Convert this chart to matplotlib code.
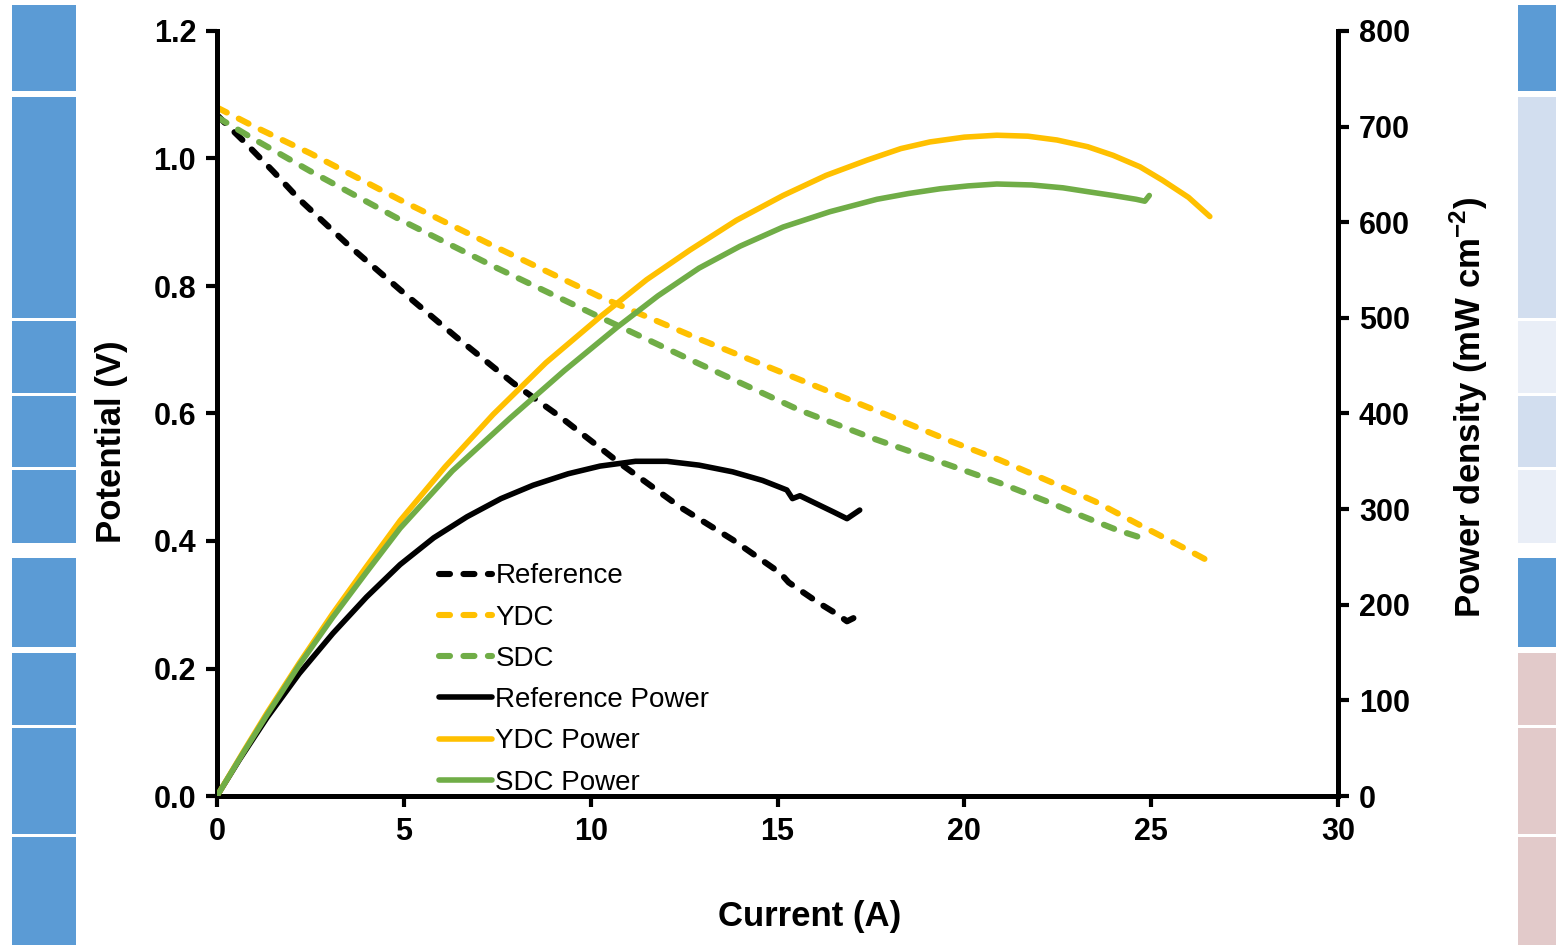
import matplotlib
matplotlib.use("Agg")
import matplotlib.pyplot as plt
from matplotlib.patches import Rectangle

plt.rcParams['font.family'] = ['Liberation Sans', 'DejaVu Sans']

# Potential curves (V vs current A)
ref_i = [0, 0.7, 1.5, 2.22, 3.5, 4.9, 6.4, 7.92, 9.18, 10.78, 12.4, 13.8, 15.07, 15.3, 15.6, 16.1, 16.6, 16.86, 17.1]
ref_v = [1.068, 1.028, 0.98, 0.935, 0.865, 0.794, 0.72, 0.648, 0.595, 0.522, 0.453, 0.402, 0.350, 0.335, 0.323, 0.303, 0.285, 0.274, 0.281]

ydc_i = [0, 1.0, 2.5, 4.9, 7.5, 10.25, 12.9, 15.6, 18.0, 19.7, 20.95, 22.3, 23.5, 24.6, 25.85, 26.65]
ydc_v = [1.08, 1.05, 1.008, 0.935, 0.86, 0.783, 0.717, 0.653, 0.596, 0.555, 0.527, 0.493, 0.462, 0.428, 0.39, 0.365]

sdc_i = [0, 1.0, 2.5, 4.9, 7.5, 10.25, 12.9, 15.6, 17.6, 19.6, 20.95, 22.3, 23.2, 24.1, 24.9]
sdc_v = [1.065, 1.03, 0.98, 0.904, 0.828, 0.751, 0.678, 0.605, 0.56, 0.519, 0.491, 0.46, 0.438, 0.417, 0.402]

# Power density curves (mW cm-2)
refp_i = [0, 0.6, 1.34, 2.2, 3.1, 4.0, 4.9, 5.8, 6.69, 7.6, 8.46, 9.4, 10.25, 11.2, 12.04, 12.9, 13.8, 14.6,
          15.25, 15.4, 15.6, 16.5, 16.86, 17.2]
refp_p = [0, 38, 82, 128, 170, 208, 242, 270, 292, 311, 325, 337, 345, 350, 350, 346, 339, 330,
          320, 311, 314, 297, 290, 299]

ydcp_i = [0, 0.7, 1.34, 2.2, 3.1, 4.0, 4.9, 6.1, 7.39, 8.8, 10.25, 11.5, 12.66, 13.9, 15.15, 16.3, 17.4, 18.3, 19.08,
          20.0, 20.87, 21.7, 22.48, 23.3, 23.98, 24.7, 25.3, 26.0, 26.57]
ydcp_p = [0, 46, 87, 139, 191, 240, 288, 344, 399, 453, 501, 540, 571, 602, 628, 649, 665, 677, 684,
          689, 691, 690, 686, 679, 670, 658, 644, 626, 606]

sdcp_i = [0, 0.7, 1.34, 2.2, 3.1, 4.0, 4.9, 6.3, 7.84, 9.3, 10.7, 11.8, 12.9, 14.0, 15.15, 16.4, 17.66, 18.5, 19.35,
          20.1, 20.87, 21.8, 22.64, 23.3, 23.98, 24.6, 24.83, 24.95]
sdcp_p = [0, 45, 85, 137, 187, 234, 280, 340, 395, 445, 490, 523, 552, 575, 595, 611, 624, 630, 635,
          638, 640, 639, 636, 632, 628, 624, 622, 628]

labels = ["Reference", "YDC", "SDC", "Reference Power", "YDC Power", "SDC Power"]
colors = ["#000000", "#FFC000", "#70AD47"]

# side decoration blocks (figure pixels: y_top, y_bottom)
block_y = [(5, 91), (97, 318), (321, 393), (396, 467), (470, 543), (558, 647), (653, 725), (728, 834), (837, 945)]
left_cols = ["#5B9BD5"] * 9
right_cols = ["#5B9BD5", "#D2DEEF", "#E9EEF7", "#D2DEEF", "#E9EEF7", "#5B9BD5", "#E2CACA", "#E2CACA", "#E2CACA"]

W, H = 1560, 947
fig = plt.figure(figsize=(W / 100, H / 100), dpi=100)
ax = fig.add_axes([217 / W, 1 - 796 / H, (1338 - 217) / W, (796 - 31) / H])
ax2 = ax.twinx()

for (y0, y1), c in zip(block_y, left_cols):
    fig.add_artist(Rectangle((12 / W, 1 - y1 / H), 64 / W, (y1 - y0) / H,
                             transform=fig.transFigure, color=c, lw=0))
for (y0, y1), c in zip(block_y, right_cols):
    fig.add_artist(Rectangle((1518 / W, 1 - y1 / H), 38 / W, (y1 - y0) / H,
                             transform=fig.transFigure, color=c, lw=0))

dash_kw = dict(lw=4.4, ls=(0, (1.8, 2.2)), dash_capstyle="round")
solid_kw = dict(lw=4.0, solid_capstyle="round", solid_joinstyle="round")
h = []
h += ax.plot(ref_i, ref_v, color=colors[0], label=labels[0], **dash_kw)
h += ax.plot(ydc_i, ydc_v, color=colors[1], label=labels[1], **dash_kw)
h += ax.plot(sdc_i, sdc_v, color=colors[2], label=labels[2], **dash_kw)
h += ax2.plot(refp_i, refp_p, color=colors[0], label=labels[3], **solid_kw)
h += ax2.plot(ydcp_i, ydcp_p, color=colors[1], label=labels[4], **solid_kw)
h += ax2.plot(sdcp_i, sdcp_p, color=colors[2], label=labels[5], **solid_kw)

ax.set_xlim(0, 30)
ax.set_ylim(0, 1.2)
ax2.set_ylim(0, 800)
ax.set_xticks(range(0, 31, 5))
ax.set_yticks([0, 0.2, 0.4, 0.6, 0.8, 1.0, 1.2])
ax.set_yticklabels(["%.1f" % v for v in ax.get_yticks()])
ax2.set_yticks(range(0, 801, 100))

for a in (ax, ax2):
    a.spines["top"].set_visible(False)
    for s in ("left", "right", "bottom"):
        a.spines[s].set_linewidth(3.6)
    a.tick_params(direction="out", length=8, width=3, labelsize=22, pad=7)
    for t in a.get_xticklabels() + a.get_yticklabels():
        t.set_fontweight("bold")
ax.spines["right"].set_visible(False)
ax2.spines["left"].set_visible(False)
ax2.spines["bottom"].set_visible(False)

ax.set_xlabel("Current (A)", fontsize=25, fontweight="bold")
ax.xaxis.set_label_coords(0.529, -0.136)
ax.set_ylabel("Potential (V)", fontsize=25, fontweight="bold")
ax.yaxis.set_label_coords(-0.079, 0.463)
ax2.set_ylabel("Power density (mW cm$^{\\mathregular{-2}}$)", fontsize=25, fontweight="bold")
ax2.yaxis.set_label_coords(1.098, 0.5085)

ax2.legend(h, labels, loc="lower left", bbox_to_anchor=(0.181, -0.025), frameon=False, fontsize=20,
           handlelength=1.9, handletextpad=0.12, labelspacing=0.55, borderpad=0.2)

fig.savefig("out.png", dpi=100)
